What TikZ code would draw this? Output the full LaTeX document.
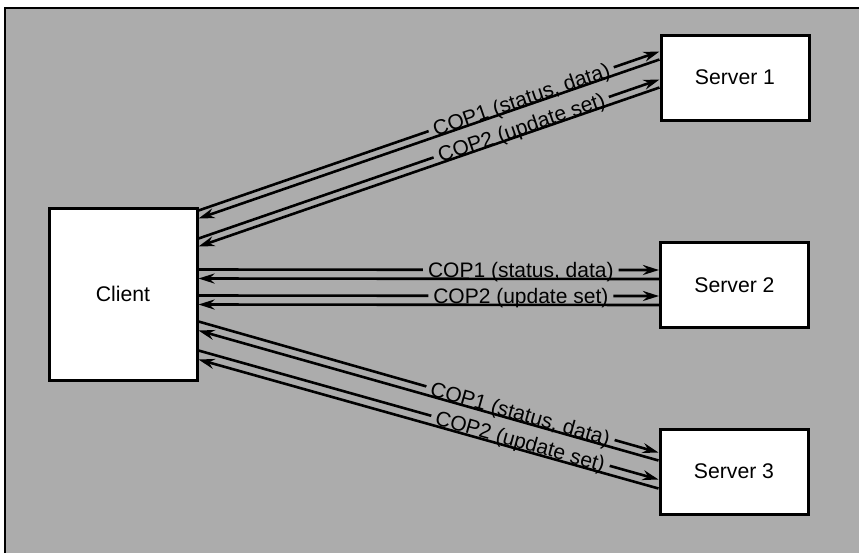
\documentclass[tikz,border=0pt]{standalone}
\usepackage{fontspec}
\setmainfont{Liberation Sans}
\usetikzlibrary{arrows.meta,calc}
\definecolor{bg}{RGB}{172,172,172}
\begin{document}
\begin{tikzpicture}[x=0.5pt,y=-0.5pt,
  box/.style={draw=black, line width=1.5pt, fill=white, minimum width=74pt,
    minimum height=42.5pt, inner sep=0pt, font=\fontsize{10.6pt}{12pt}\selectfont},
  msg/.style={line width=1.3pt},
  tohead/.style={msg, -{Stealth[length=8pt,width=5pt,inset=2.6pt]}},
  lbl/.style={fill=bg, inner xsep=2.5pt, inner ysep=0pt, text height=7.6pt, text depth=0pt,
    font=\fontsize{10.5pt}{12pt}\selectfont, sloped, pos=0.7}]
\useasboundingbox (0,0) rectangle (859,553);
\fill[bg] (5,8) rectangle (859,553);
\draw[line width=1.3pt] (5,553) -- (5,8) -- (859,8);

\node[box, minimum height=86pt] (client) at (123,294) {Client};
\node[box] (s1) at (735,77.5) {Server 1};
\node[box] (s2) at (734.5,285) {Server 2};
\node[box] (s3) at (734,471.5) {Server 3};

% Server 1
\draw[tohead] ($(client.north east)+(0,4)$) -- node[lbl]{COP1 (status, data)} ($(s1.north west)+(0,18)$);
\draw[tohead] ($(client.north east)+(0,32)$) -- node[lbl]{COP2 (update set)} ($(s1.north west)+(0,46)$);
\draw[tohead] ($(s1.north west)+(0,26)$) -- ($(client.north east)+(0,12)$);
\draw[tohead] ($(s1.north west)+(0,54)$) -- ($(client.north east)+(0,40)$);

% Server 2
\draw[tohead] ($(client.north east)+(0,63)$) -- node[lbl]{COP1 (status, data)} ($(s2.north west)+(0,29)$);
\draw[tohead] ($(client.north east)+(0,89)$) -- node[lbl]{COP2 (update set)} ($(s2.north west)+(0,55)$);
\draw[tohead] ($(s2.north west)+(0,38)$) -- ($(client.north east)+(0,72)$);
\draw[tohead] ($(s2.north west)+(0,64)$) -- ($(client.north east)+(0,98)$);

% Server 3
\draw[tohead] ($(client.north east)+(0,115)$) -- node[lbl]{COP1 (status, data)} ($(s3.north west)+(0,25)$);
\draw[tohead] ($(client.north east)+(0,144)$) -- node[lbl]{COP2 (update set)} ($(s3.north west)+(0,52)$);
\draw[tohead] ($(s3.north west)+(0,33)$) -- ($(client.north east)+(0,124)$);
\draw[tohead] ($(s3.north west)+(0,61)$) -- ($(client.north east)+(0,153)$);
\end{tikzpicture}
\end{document}
